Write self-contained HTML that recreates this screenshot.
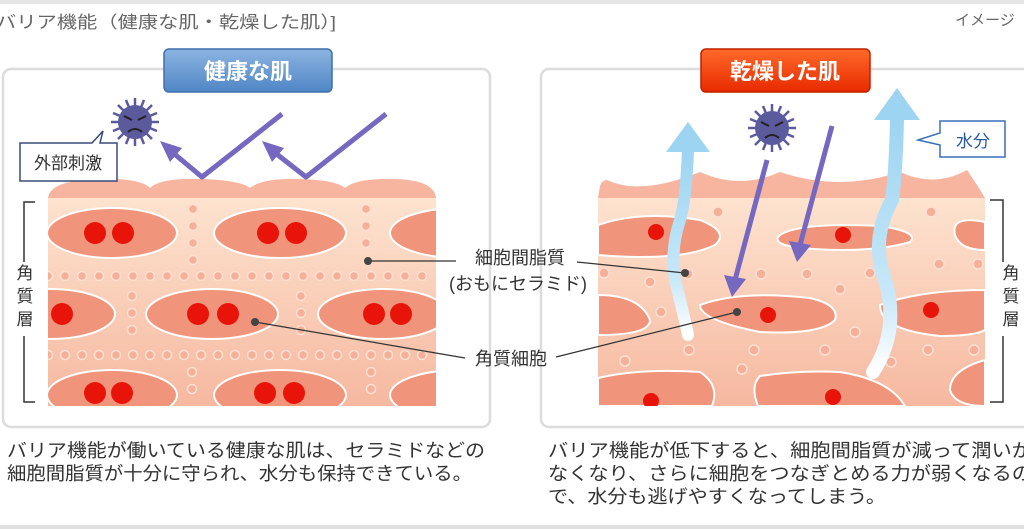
<!DOCTYPE html>
<html><head><meta charset="utf-8"><style>
html,body{margin:0;padding:0;background:#fff;width:1024px;height:529px;overflow:hidden}
svg text{font-family:"Liberation Sans","Noto Sans CJK JP",sans-serif}
</style></head><body>
<svg width="1024" height="529" viewBox="0 0 1024 529" xmlns="http://www.w3.org/2000/svg">
<defs>
<linearGradient id="gb" x1="0" y1="0" x2="0" y2="1"><stop offset="0" stop-color="#8cb4e0"/><stop offset="1" stop-color="#4f86c6"/></linearGradient>
<linearGradient id="gr" x1="0" y1="0" x2="0" y2="1"><stop offset="0" stop-color="#ff6a2a"/><stop offset="1" stop-color="#e82a00"/></linearGradient>
<linearGradient id="skin" x1="0" y1="0" x2="0" y2="1"><stop offset="0" stop-color="#fde3cf"/><stop offset="1" stop-color="#f6b8a0"/></linearGradient>
<linearGradient id="wat" x1="0" y1="1" x2="0" y2="0"><stop offset="0" stop-color="#ffffff"/><stop offset="0.3" stop-color="#c8e8f8"/><stop offset="1" stop-color="#9dd4f2"/></linearGradient>
<clipPath id="cl"><rect x="48" y="198" width="388" height="208"/></clipPath>
<clipPath id="cr"><rect x="598" y="198" width="387" height="208"/></clipPath>
</defs>
<rect x="0" y="0" width="1024" height="4" fill="#e6e6e6"/>
<rect x="0" y="525" width="1024" height="4" fill="#e0e0e0"/>
<text x="-4" y="28" font-size="17" fill="#666" textLength="340" lengthAdjust="spacingAndGlyphs">バリア機能（健康な肌・乾燥した肌）]</text>
<text x="955" y="25" font-size="15" fill="#666">イメージ</text>

<rect x="3" y="69" width="487" height="358" rx="8" fill="#fff" stroke="#dcdcdc" stroke-width="2.5"/>
<rect x="541" y="69" width="490" height="358" rx="8" fill="#fff" stroke="#dcdcdc" stroke-width="2.5"/>

<rect x="164" y="49" width="168" height="43" rx="5" fill="url(#gb)" stroke="#3f6fae" stroke-width="1.5"/>
<text x="248" y="79" font-size="22" font-weight="bold" fill="#fff" text-anchor="middle">健康な肌</text>
<rect x="701" y="49" width="169" height="43" rx="5" fill="url(#gr)" stroke="#c02000" stroke-width="1.5"/>
<text x="785" y="79" font-size="22" font-weight="bold" fill="#fff" text-anchor="middle">乾燥した肌</text>

<!-- LEFT skin -->
<path d="M48 198 Q50 180 100 179 Q140 178 150 188 Q160 178 200 179 Q240 180 250 188 Q262 178 300 179 Q336 180 345 188 Q356 178 395 179 Q434 180 436 198 Z" fill="#f7b5a0"/>
<g clip-path="url(#cl)">
<rect x="48" y="198" width="388" height="208" fill="url(#skin)"/>
<g fill="#f0957c" stroke="#fff" stroke-width="2">
<ellipse cx="112" cy="233" rx="65" ry="25"/><ellipse cx="280" cy="233" rx="66" ry="25"/><ellipse cx="460" cy="233" rx="70" ry="25"/>
<ellipse cx="50" cy="314" rx="65" ry="25"/><ellipse cx="212" cy="314" rx="66" ry="25"/><ellipse cx="383" cy="314" rx="65" ry="25"/>
<ellipse cx="112" cy="395" rx="65" ry="25"/><ellipse cx="280" cy="395" rx="66" ry="25"/><ellipse cx="460" cy="395" rx="70" ry="25"/>
</g>
<g fill="#e8140a">
<circle cx="95" cy="233" r="11"/><circle cx="123" cy="233" r="11"/><circle cx="268" cy="233" r="11"/><circle cx="296" cy="233" r="11"/>
<circle cx="62" cy="314" r="11"/><circle cx="198" cy="314" r="11"/><circle cx="228" cy="314" r="11"/><circle cx="374" cy="314" r="11"/><circle cx="401" cy="314" r="11"/>
<circle cx="95" cy="393" r="11"/><circle cx="122" cy="393" r="11"/><circle cx="265" cy="393" r="11"/><circle cx="294" cy="393" r="11"/>
</g>
<g fill="#f5b09a" stroke="#fde0d2" stroke-width="1.5">
<circle cx="48" cy="276" r="4.5"/><circle cx="65" cy="276" r="4.5"/><circle cx="82" cy="276" r="4.5"/><circle cx="99" cy="276" r="4.5"/><circle cx="116" cy="276" r="4.5"/><circle cx="133" cy="276" r="4.5"/><circle cx="150" cy="276" r="4.5"/><circle cx="167" cy="276" r="4.5"/><circle cx="184" cy="276" r="4.5"/><circle cx="201" cy="276" r="4.5"/><circle cx="218" cy="276" r="4.5"/><circle cx="235" cy="276" r="4.5"/><circle cx="252" cy="276" r="4.5"/><circle cx="269" cy="276" r="4.5"/><circle cx="286" cy="276" r="4.5"/><circle cx="303" cy="276" r="4.5"/><circle cx="320" cy="276" r="4.5"/><circle cx="337" cy="276" r="4.5"/><circle cx="354" cy="276" r="4.5"/><circle cx="371" cy="276" r="4.5"/><circle cx="388" cy="276" r="4.5"/><circle cx="405" cy="276" r="4.5"/><circle cx="422" cy="276" r="4.5"/>
<circle cx="48" cy="355" r="4.5"/><circle cx="65" cy="355" r="4.5"/><circle cx="82" cy="355" r="4.5"/><circle cx="99" cy="355" r="4.5"/><circle cx="116" cy="355" r="4.5"/><circle cx="133" cy="355" r="4.5"/><circle cx="150" cy="355" r="4.5"/><circle cx="167" cy="355" r="4.5"/><circle cx="184" cy="355" r="4.5"/><circle cx="201" cy="355" r="4.5"/><circle cx="218" cy="355" r="4.5"/><circle cx="235" cy="355" r="4.5"/><circle cx="252" cy="355" r="4.5"/><circle cx="269" cy="355" r="4.5"/><circle cx="286" cy="355" r="4.5"/><circle cx="303" cy="355" r="4.5"/><circle cx="320" cy="355" r="4.5"/><circle cx="337" cy="355" r="4.5"/><circle cx="354" cy="355" r="4.5"/><circle cx="371" cy="355" r="4.5"/><circle cx="388" cy="355" r="4.5"/><circle cx="405" cy="355" r="4.5"/><circle cx="422" cy="355" r="4.5"/>
<circle cx="193" cy="209" r="4.5"/><circle cx="193" cy="226" r="4.5"/><circle cx="193" cy="243" r="4.5"/><circle cx="193" cy="260" r="4.5"/>
<circle cx="366" cy="209" r="4.5"/><circle cx="366" cy="226" r="4.5"/><circle cx="366" cy="243" r="4.5"/>
<circle cx="132" cy="296" r="4.5"/><circle cx="132" cy="313" r="4.5"/><circle cx="132" cy="330" r="4.5"/>
<circle cx="301" cy="296" r="4.5"/><circle cx="301" cy="313" r="4.5"/><circle cx="301" cy="330" r="4.5"/>
<circle cx="192" cy="372" r="4.5"/><circle cx="192" cy="389" r="4.5"/><circle cx="371" cy="372" r="4.5"/><circle cx="371" cy="389" r="4.5"/>
</g>
</g>
<path d="M35 202 H24 V402 H35" fill="none" stroke="#333" stroke-width="1.5"/>
<rect x="15" y="262" width="20" height="74" fill="#fff"/>
<text font-size="17" fill="#333" text-anchor="middle"><tspan x="25" y="279">角</tspan><tspan x="25" y="302">質</tspan><tspan x="25" y="325">層</tspan></text>

<g fill="#5b5a9c">
<circle cx="135" cy="122" r="17"/>
<g stroke="#5b5a9c" stroke-width="2.5"><path d="M135 98V146M111 122H159M118 105L152 139M152 105L118 139M126 100L144 144M144 100L126 144M113 113L157 131M113 131L157 113"/></g>
</g>
<path d="M124 116l8 4M146 116l-8 4M128 132q7-6 14 0" stroke="#222" stroke-width="2" fill="none"/>
<path d="M20 143 H92 L103 131 L100 143 H117 V181 H20 Z" fill="#fff" stroke="#3a4a7a" stroke-width="1.5"/>
<text x="68" y="169" font-size="17" fill="#333" text-anchor="middle">外部刺激</text>
<g stroke="#7667c0" stroke-width="5" fill="none" stroke-linejoin="round"><path d="M282 114 L202 177 L172 152"/><path d="M386 114 L306 177 L274 152"/></g>
<g fill="#7667c0"><path d="M160 141 L182 148 L170 162 Z"/><path d="M262 141 L284 148 L272 162 Z"/></g>

<!-- RIGHT skin -->
<path d="M598 198 L600 186 Q602 180 607 180 Q640 196 700 172 Q740 190 780 172 Q840 192 900 172 Q935 188 967 170 Q978 186 985 198 Z" fill="#f7b5a0"/>
<g clip-path="url(#cr)">
<rect x="598" y="198" width="387" height="208" fill="url(#skin)"/>
<g fill="#f0957c" stroke="#fff" stroke-width="2">
<path d="M598 225 Q640 210 700 220 Q730 232 715 245 Q680 262 598 255 Z"/>
<path d="M780 235 Q800 222 880 226 Q920 232 910 242 Q870 254 800 248 Q770 244 780 235 Z"/>
<path d="M985 222 Q950 215 955 235 Q960 250 985 250 Z"/>
<path d="M598 295 Q640 295 650 320 Q650 335 598 335 Z"/>
<path d="M700 305 Q740 290 810 298 Q840 305 835 320 Q820 335 760 332 Q700 320 700 305 Z"/>
<path d="M985 290 Q920 290 880 305 Q880 330 940 336 Q975 336 985 330 Z"/>
<path d="M598 378 Q640 368 700 372 Q720 385 712 406 L598 406 Z"/>
<path d="M760 376 Q800 370 840 372 Q890 380 905 406 L758 406 Q750 386 760 376 Z"/>
<path d="M985 360 Q950 370 950 390 Q955 406 985 406 Z"/>
</g>
<g fill="#e8140a"><circle cx="656" cy="232" r="8"/><circle cx="843" cy="235" r="8"/><circle cx="768" cy="315" r="8"/><circle cx="931" cy="310" r="8"/><circle cx="651" cy="401" r="8"/><circle cx="833" cy="397" r="8"/></g>
<g fill="#f5b09a" stroke="#fde0d2" stroke-width="1.5">
<circle cx="718" cy="212" r="5"/><circle cx="931" cy="212" r="5"/><circle cx="604" cy="273" r="5"/><circle cx="650" cy="282" r="5"/><circle cx="688" cy="274" r="5"/><circle cx="761" cy="274" r="5"/><circle cx="807" cy="274" r="5"/><circle cx="870" cy="273" r="5"/><circle cx="939" cy="264" r="5"/><circle cx="840" cy="289" r="5"/><circle cx="661" cy="312" r="5"/><circle cx="689" cy="350" r="5"/><circle cx="625" cy="361" r="5"/><circle cx="754" cy="350" r="5"/><circle cx="825" cy="350" r="5"/><circle cx="855" cy="332" r="5"/><circle cx="928" cy="350" r="5"/><circle cx="974" cy="350" r="5"/><circle cx="891" cy="362" r="5"/><circle cx="742" cy="369" r="5"/><circle cx="978" cy="264" r="5"/>
</g>
</g>
<path d="M990 200 H1003 V402 H990" fill="none" stroke="#333" stroke-width="1.5"/>
<rect x="998" y="262" width="26" height="74" fill="#fff"/>
<text font-size="17" fill="#333" text-anchor="middle"><tspan x="1011" y="279">角</tspan><tspan x="1011" y="302">質</tspan><tspan x="1011" y="325">層</tspan></text>

<path d="M688 150 Q686 200 680 220 Q670 250 675 280 Q685 320 688 335" fill="none" stroke="url(#wat)" stroke-width="12" stroke-linecap="round"/>
<path d="M666 152 L688 122 L710 152 Z" fill="#9dd4f2"/>
<path d="M897 118 Q896 170 892 200 Q870 240 885 280 Q900 330 873 372" fill="none" stroke="url(#wat)" stroke-width="14" stroke-linecap="round"/>
<path d="M874 120 L897 88 L920 120 Z" fill="#9dd4f2"/>

<g fill="#5b5a9c">
<circle cx="772" cy="128" r="17"/>
<g stroke="#5b5a9c" stroke-width="2.5"><path d="M772 104V152M748 128H796M755 111L789 145M789 111L755 145M763 106L781 150M781 106L763 150M750 119L794 137M750 137L794 119"/></g>
</g>
<path d="M761 122l8 4M783 122l-8 4M765 138q7-6 14 0" stroke="#222" stroke-width="2" fill="none"/>
<g stroke="#7667c0" stroke-width="5" fill="none"><path d="M767 160 L735 280"/><path d="M832 126 L800 245"/></g>
<g fill="#7667c0"><path d="M724 275 L732 297 L746 279 Z"/><path d="M789 241 L797 262 L811 245 Z"/></g>
<path d="M940 121 H1005 V157 H940 V145 L918 140 L940 133 Z" fill="#fff" stroke="#3a6fb8" stroke-width="1.5"/>
<text x="973" y="147" font-size="17" fill="#2a5a9a" text-anchor="middle">水分</text>

<g stroke="#333" stroke-width="1.3" fill="none"><path d="M368 261 H456"/><path d="M577 262 L685 273"/><path d="M255 322 L465 358"/><path d="M556 357 L737 312"/></g>
<g fill="#444"><circle cx="368" cy="261" r="4"/><circle cx="685" cy="273" r="4"/><circle cx="255" cy="322" r="4"/><circle cx="737" cy="312" r="4"/></g>
<text x="520" y="264" font-size="18" fill="#333" text-anchor="middle">細胞間脂質</text>
<text x="518" y="290" font-size="18" fill="#333" text-anchor="middle">(おもにセラミド)</text>
<text x="511" y="365" font-size="18" fill="#333" text-anchor="middle">角質細胞</text>

<g font-size="18.5" fill="#333">
<text x="7" y="457" textLength="478" lengthAdjust="spacingAndGlyphs">バリア機能が働いている健康な肌は、セラミドなどの</text>
<text x="7" y="480" textLength="465" lengthAdjust="spacingAndGlyphs">細胞間脂質が十分に守られ、水分も保持できている。</text>
<text x="548" y="457" textLength="484" lengthAdjust="spacingAndGlyphs">バリア機能が低下すると、細胞間脂質が減って潤いが</text>
<text x="548" y="480" textLength="484" lengthAdjust="spacingAndGlyphs">なくなり、さらに細胞をつなぎとめる力が弱くなるの</text>
<text x="548" y="503" textLength="338" lengthAdjust="spacingAndGlyphs">で、水分も逃げやすくなってしまう。</text>
</g>
</svg>
</body></html>
